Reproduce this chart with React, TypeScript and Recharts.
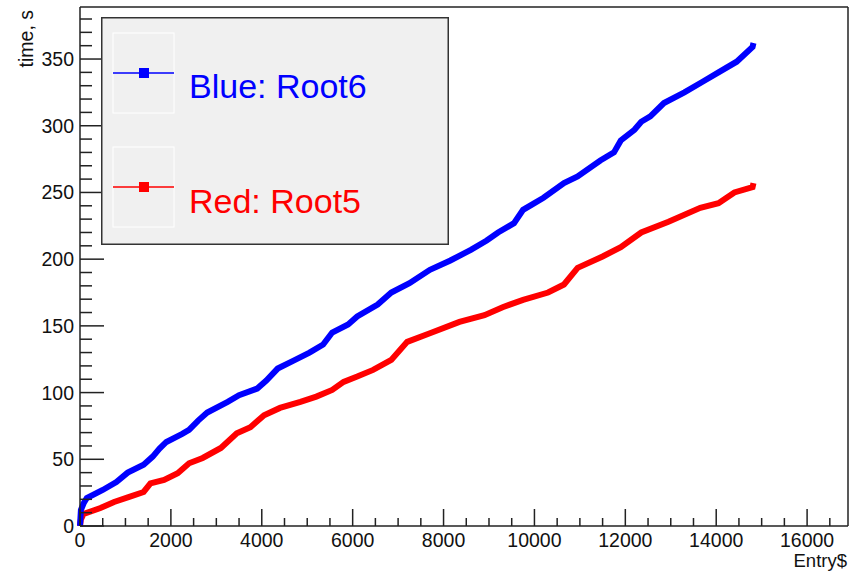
import React from 'react';
import { LineChart, Line, XAxis, YAxis, ReferenceLine, Legend } from 'recharts';

const FONT = '"Liberation Sans", Arial, Helvetica, sans-serif';

// Blue: Root6 (entry -> seconds)
const blueEntry = [0, 20, 80, 150, 500, 800, 1050, 1400, 1600, 1750, 1900, 2250, 2400, 2600, 2800, 3250, 3500, 3900, 4100, 4350, 4700, 5050, 5350, 5550, 5900, 6100, 6550, 6850, 7250, 7700, 8150, 8600, 8950, 9200, 9550, 9750, 10000, 10200, 10650, 10950, 11450, 11750, 11900, 12200, 12350, 12550, 12850, 13300, 13700, 14050, 14450, 14800, 14820];
const blueTime = [0, 12, 17, 21, 27, 33, 40, 46, 52, 58, 63, 69, 72, 79, 85, 93, 98, 103, 109, 118, 124, 130, 136, 145, 151, 157, 166, 175, 182, 192, 199, 207, 214, 220, 227, 237, 242, 246, 257, 262, 274, 280, 289, 297, 303, 307, 317, 325, 333, 340, 348, 359, 362];

// Red: Root5
const redEntry = [0, 20, 80, 450, 750, 1100, 1400, 1550, 1850, 2150, 2400, 2700, 3100, 3450, 3750, 4050, 4400, 4850, 5200, 5550, 5800, 6100, 6450, 6850, 7200, 7700, 8350, 8900, 9300, 9750, 10300, 10650, 10950, 11500, 11900, 12350, 12950, 13650, 14050, 14400, 14800, 14820];
const redTime = [0, 5, 9, 13.5, 18, 22, 25.5, 32, 34.5, 39.5, 47, 51, 58.5, 69.5, 74, 83, 88.5, 93, 97, 102, 108, 112, 117, 124.5, 138, 144.5, 153, 158, 164, 169.5, 175, 181, 193.5, 202, 209, 220, 228, 238.5, 242, 250, 254, 257];

const seriesNames = ['Blue: Root6', 'Red: Root5'];
const seriesColors = ['#0000ff', '#ff0000'];

const X_MAX = 16900;
const Y_MAX = 389;
const xTicks = Array.from({ length: 34 }, (_, i) => i * 500);
const yTicks = Array.from({ length: 39 }, (_, i) => i * 10);

const blueData = blueEntry.map((entry, i) => ({ entry, time: blueTime[i] }));
const redData = redEntry.map((entry, i) => ({ entry, time: redTime[i] }));

const XTick = (props: any) => {
  const { x, y, payload } = props;
  const major = payload.value % 2000 === 0;
  return (
    <g>
      <line x1={x} y1={y} x2={x} y2={y - (major ? 17 : 8)} stroke="#222" strokeWidth={1.5} />
      {major && (
        <text x={x} y={y + 21} textAnchor="middle" fontSize={19.5} fill="#111">
          {payload.value}
        </text>
      )}
    </g>
  );
};

const YTick = (props: any) => {
  const { x, y, payload } = props;
  const major = payload.value % 50 === 0;
  return (
    <g>
      <line x1={x} y1={y} x2={x + (major ? 24 : 12)} y2={y} stroke="#222" strokeWidth={1.5} />
      {major && (
        <text x={x - 6} y={y} dy="0.36em" textAnchor="end" fontSize={19.5} fill="#111">
          {payload.value}
        </text>
      )}
    </g>
  );
};

const LegendBox = () => (
  <svg width={348} height={228} style={{ display: 'block' }}>
    <rect x={0.75} y={0.75} width={346.5} height={226.5} fill="#f0f0f0" stroke="#333" strokeWidth={1.5} />
    {seriesNames.map((name, i) => (
      <g key={name}>
        <rect x={12} y={16 + i * 114} width={61} height={80} fill="none" stroke="#fff" strokeWidth={1} />
        <line x1={12} x2={73} y1={56 + i * 114} y2={56 + i * 114} stroke={seriesColors[i]} strokeWidth={1.5} />
        <rect x={38} y={51 + i * 114} width={10} height={10} fill={seriesColors[i]} />
        <text x={88} y={81 + i * 115} fontSize={34} fill={seriesColors[i]} style={{ fontFamily: FONT }}>
          {name}
        </text>
      </g>
    ))}
  </svg>
);

export default function App() {
  return (
    <div style={{ position: 'absolute', left: 0, top: 0, width: 858, height: 572, background: '#fff', fontFamily: FONT }}>
      <LineChart width={858} height={572} margin={{ top: 7, right: 10, bottom: 0, left: 0 }}>
        <XAxis
          dataKey="entry"
          type="number"
          domain={[0, X_MAX]}
          ticks={xTicks}
          interval={0}
          height={46}
          tickSize={0}
          tickMargin={0}
          tickLine={false}
          tick={<XTick />}
          axisLine={{ stroke: '#222', strokeWidth: 1.5 }}
          label={(p: any) => (
            <text x={847} y={567} textAnchor="end" fontSize={18.5} fill="#111">
              Entry$
            </text>
          )}
        />
        <YAxis
          type="number"
          domain={[0, Y_MAX]}
          ticks={yTicks}
          interval={0}
          width={80}
          tickSize={0}
          tickMargin={0}
          tickLine={false}
          tick={<YTick />}
          axisLine={{ stroke: '#222', strokeWidth: 1.5 }}
          label={(p: any) => (
            <text x={33} y={10} transform="rotate(-90 33 10)" textAnchor="end" fontSize={19.5} fill="#111">
              time, s
            </text>
          )}
        />
        <ReferenceLine y={Y_MAX} stroke="#222" strokeWidth={1.5} />
        <ReferenceLine x={X_MAX} stroke="#222" strokeWidth={1.5} />
        <Line
          data={redData}
          dataKey="time"
          name={seriesNames[1]}
          stroke={seriesColors[1]}
          strokeWidth={6}
          dot={false}
          isAnimationActive={false}
        />
        <Line
          data={blueData}
          dataKey="time"
          name={seriesNames[0]}
          stroke={seriesColors[0]}
          strokeWidth={6}
          dot={false}
          isAnimationActive={false}
        />
        <Legend
          layout="horizontal"
          verticalAlign="middle"
          align="center"
          content={<LegendBox />}
          wrapperStyle={{ left: 101, top: 17, width: 348, height: 228 }}
        />
      </LineChart>
    </div>
  );
}
